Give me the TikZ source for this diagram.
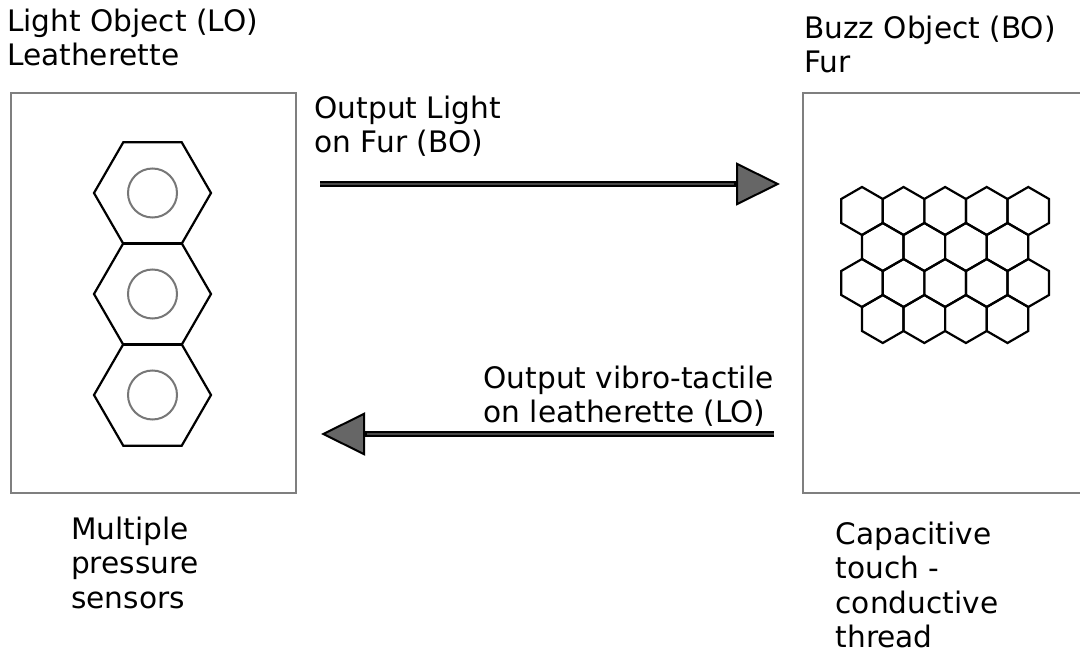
\documentclass[tikz,border=0pt]{standalone}
\usepackage{fontspec}
\setmainfont{DejaVu Sans}
\usetikzlibrary{arrows.meta}
\definecolor{framegray}{HTML}{7F7F7F}
\definecolor{ringgray}{HTML}{777777}
\definecolor{tipgray}{HTML}{666666}
\definecolor{coregray}{HTML}{484848}
\begin{document}
\begin{tikzpicture}[x=1pt,y=-1pt,
  objbox/.style={draw=framegray, line width=2pt, inner sep=0pt},
  lbl/.style={inner sep=0pt, align=left, anchor=base west,
    font=\fontsize{29.6}{34.5}\selectfont},
  hexline/.style={draw=black, line width=2.2pt, line join=miter},
  ring/.style={draw=ringgray, line width=2pt},
  conn/.style={draw=black, line width=6pt,
    -{Triangle[length=44pt, width=43pt, line width=2pt, fill=tipgray]}},
  core/.style={draw=coregray, line width=2pt}
]
\useasboundingbox (0,0) rectangle (1080,652);
\fill[white] (0,0) rectangle (1080,652);

% the two objects
\node[objbox, minimum width=285pt, minimum height=400pt] (lo) at (153.5,293) {};
\begin{scope}
  \clip (0,0) rectangle (1080,652);
  \node[objbox, minimum width=290pt, minimum height=400pt] (bo) at (948,293) {};
\end{scope}

% pressure sensors: three stacked flat hexagons with a ring each
\foreach \cy in {193,294,395} {
  \draw[hexline] (152.5,\cy) +(0:58.5) -- +(60:58.5) -- +(120:58.5)
    -- +(180:58.5) -- +(240:58.5) -- +(300:58.5) -- cycle;
  \draw[ring] (152.5,\cy) circle (24.5);
}

% conductive thread: honeycomb of pointy hexagons
\foreach \j/\n/\off in {0/4/0, 1/3/20.78, 2/4/0, 3/3/20.78} {
  \foreach \i in {0,...,\n} {
    \draw[hexline] ({862+41.57*\i+\off},{211+36*\j}) +(30:24) -- +(90:24)
      -- +(150:24) -- +(210:24) -- +(270:24) -- +(330:24) -- cycle;
  }
}

% labels (placed by the baseline of their last line)
\node[lbl] (lotitle) at (7,66) {Light Object (LO)\\Leatherette};
\node[lbl] (botitle) at (804,73) {Buzz Object (BO)\\Fur};
\node[lbl] (outlight) at (314.5,153) {Output Light\\on Fur (BO)};
\node[lbl] (outvibro) at (483.5,423) {Output vibro-tactile\\on leatherette (LO)};
\node[lbl] (losensor) at (71,608) {Multiple\\pressure\\sensors};
\node[lbl] (bosensor) at (835.5,647.5) {Capacitive\\touch -\\conductive\\thread};

% connectors between the objects
\coordinate (upper) at (0,184);
\coordinate (lower) at (0,434);
\draw[conn, shorten <=23pt, shorten >=22pt] (lo.east |- upper) -- (bo.west |- upper);
\draw[core, shorten <=23pt, shorten >=68pt] (lo.east |- upper) -- (bo.west |- upper);
\draw[conn, shorten <=28pt, shorten >=24pt] (bo.west |- lower) -- (lo.east |- lower);
\draw[core, shorten <=28pt, shorten >=70pt] (bo.west |- lower) -- (lo.east |- lower);
\end{tikzpicture}
\end{document}
